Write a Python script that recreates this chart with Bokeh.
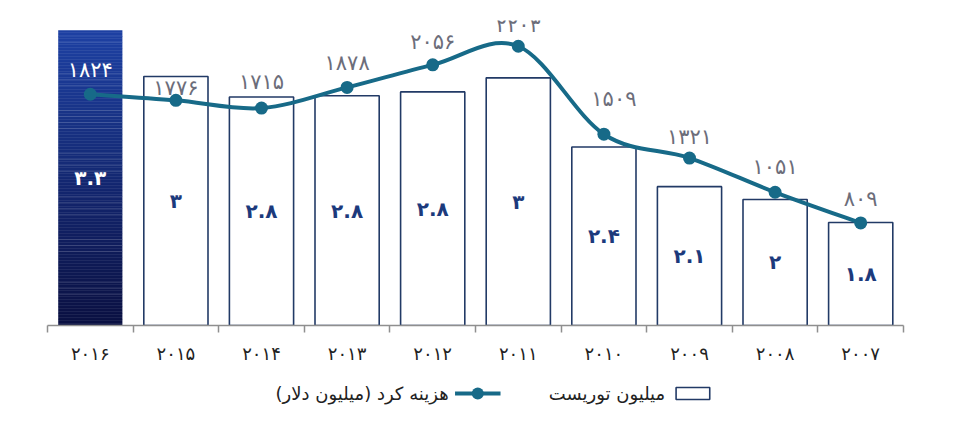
from bokeh.plotting import figure
from bokeh.models import Range1d, FixedTicker, ColumnDataSource
from bokeh.layouts import column
from bokeh.embed import file_html
from bokeh.resources import INLINE
from bokeh.core.properties import value

# ---------------- data ----------------
YEARS = ["2016", "2015", "2014", "2013", "2012", "2011", "2010", "2009", "2008", "2007"]
TOURISTS = [3.3, 2.94, 2.78, 2.79, 2.82, 2.93, 2.39, 2.08, 1.98, 1.8]          # million tourists (bars)
TOURIST_LABELS = ["3.3", "3", "2.8", "2.8", "2.8", "3", "2.4", "2.1", "2", "1.8"]
SPENDING = [1824, 1776, 1715, 1878, 2056, 2203, 1509, 1321, 1051, 809]        # million dollars (line)
SERIES_BAR = "میلیون توریست"
SERIES_LINE = "هزینه کرد (میلیون دلار)"

# ---------------- style ----------------
FA = str.maketrans("0123456789", "۰۱۲۳۴۵۶۷۸۹")
def fa(s):
    return s.translate(FA)

FONT = value("DejaVu Sans")
LINE_COLOR = "#176a88"
BAR_EDGE = "#223a66"
BAR_TEXT = "#1c3a7c"
NUM_GREY = "#6c6d7a"
BAR_BASE = 0.995
BAR_TOP = 3.378
COST_TOP = 2406
LABEL_DY = [-24, -12, -26, -24, -23, -21, -35, -21, -25, -24]
LABEL_DX = [0, 0, 0, 0, 0, 0, 10, 0, 0, 0]

xs = list(range(len(YEARS)))

p = figure(width=941, height=378, output_backend="svg", toolbar_location=None,
           x_range=Range1d(-0.5, len(YEARS) - 0.5), y_range=Range1d(BAR_BASE, BAR_TOP),
           y_axis_location=None, min_border_left=47, min_border_right=38,
           min_border_top=20, min_border_bottom=53)
p.extra_y_ranges = {"cost": Range1d(0, COST_TOP)}
p.grid.visible = False
p.outline_line_color = None
p.background_fill_color = "white"
p.border_fill_color = "white"

# --- bars (white, outlined) for all but the highlighted first ---
src_bars = ColumnDataSource(dict(x=xs[1:], top=TOURISTS[1:]))
p.vbar(x="x", top="top", bottom=BAR_BASE, width=0.75, source=src_bars,
       fill_color="white", line_color=BAR_EDGE, line_width=1.6)

# --- highlighted bar (gradient, built from slices of its own value) ---
N = 48
c0 = (10, 16, 66)    # bottom
c1 = (29, 64, 162)   # top
h = (TOURISTS[0] - BAR_BASE) / N
sl_b, sl_t, sl_c = [], [], []
for i in range(N):
    t = i / (N - 1)
    col = tuple(int(round(c0[k] + (c1[k] - c0[k]) * t)) for k in range(3))
    sl_b.append(BAR_BASE + i * h)
    sl_t.append(BAR_BASE + (i + 1) * h + 0.002)
    sl_c.append("#%02x%02x%02x" % col)
p.vbar(x=[xs[0]] * N, bottom=sl_b, top=sl_t, width=0.75, fill_color=sl_c, line_color=None)
p.vbar(x=[xs[0]], bottom=[BAR_BASE], top=[TOURISTS[0]], width=0.75, fill_alpha=0,
       line_color=None, hatch_pattern="horizontal_line", hatch_color="white",
       hatch_alpha=0.07, hatch_scale=3, hatch_weight=1)

# --- bar value labels ---
mids = [(BAR_BASE + v) / 2 for v in TOURISTS]
p.text(x=xs, y=mids, text=[fa(s) for s in TOURIST_LABELS],
       text_color=["white"] + [BAR_TEXT] * (len(xs) - 1),
       text_font=FONT, text_font_style="bold", text_font_size="20px",
       text_align="center", text_baseline="middle")

# --- smooth line via bezier segments (Catmull-Rom) ---
pts = list(zip(xs, SPENDING))
x0s, y0s, x1s, y1s, cx0, cy0, cx1, cy1 = [], [], [], [], [], [], [], []
for i in range(len(pts) - 1):
    pm = pts[max(i - 1, 0)]
    pa = pts[i]
    pb = pts[i + 1]
    pn = pts[min(i + 2, len(pts) - 1)]
    x0s.append(pa[0]); y0s.append(pa[1]); x1s.append(pb[0]); y1s.append(pb[1])
    cx0.append(pa[0] + (pb[0] - pm[0]) / 6); cy0.append(pa[1] + (pb[1] - pm[1]) / 6)
    cx1.append(pb[0] - (pn[0] - pa[0]) / 6); cy1.append(pb[1] - (pn[1] - pa[1]) / 6)
p.bezier(x0=x0s, y0=y0s, x1=x1s, y1=y1s, cx0=cx0, cy0=cy0, cx1=cx1, cy1=cy1,
         line_color=LINE_COLOR, line_width=4, y_range_name="cost")
p.scatter(x=xs, y=SPENDING, size=13, fill_color=LINE_COLOR, line_color=None,
          y_range_name="cost")

# --- line value labels ---
p.text(x=xs, y=SPENDING, text=[fa(str(v)) for v in SPENDING],
       x_offset=LABEL_DX, y_offset=LABEL_DY,
       text_color=["white"] + [NUM_GREY] * (len(xs) - 1),
       text_font=FONT, text_font_size="21px",
       text_align="center", text_baseline="middle", y_range_name="cost")

# --- x axis ---
ax = p.xaxis[0]
ax.ticker = FixedTicker(ticks=xs, minor_ticks=[i - 0.5 for i in range(len(xs) + 1)])
ax.major_label_overrides = {i: fa(y) for i, y in enumerate(YEARS)}
ax.major_tick_out = 0
ax.major_tick_in = 0
ax.minor_tick_out = 7
ax.minor_tick_in = 0
ax.minor_tick_line_color = "#8f8f8f"
ax.minor_tick_line_width = 1.5
ax.axis_line_color = "#8f8f8f"
ax.axis_line_width = 1.6
ax.major_label_standoff = 10
ax.major_label_text_font = "DejaVu Sans"
ax.major_label_text_font_size = "18px"
ax.major_label_text_color = "#222222"

# ---------------- legend (right-to-left, drawn separately) ----------------
lg = figure(width=941, height=30, output_backend="svg", toolbar_location=None,
            x_range=Range1d(0, 941), y_range=Range1d(0, 30),
            x_axis_location=None, y_axis_location=None, min_border=0)
lg.grid.visible = False
lg.outline_line_color = None
lg.quad(left=[691], right=[728], bottom=[9], top=[21], fill_color="white",
        line_color=BAR_EDGE, line_width=1.6)
lg.text(x=[679], y=[15], text=[SERIES_BAR + "\u200f"], text_font=FONT, text_font_size="18px",
        text_color="#222222", text_align="right", text_baseline="middle")
lg.line(x=[448, 498], y=[15, 15], line_color=LINE_COLOR, line_width=4)
lg.scatter(x=[473], y=[15], size=12, fill_color=LINE_COLOR, line_color=None)
lg.text(x=[441], y=[15], text=[SERIES_LINE + "\u200f"], text_font=FONT, text_font_size="18px",
        text_color="#222222", text_align="right", text_baseline="middle")

layout = column(p, lg, spacing=0)
open("out.html", "w").write(file_html(layout, INLINE))
